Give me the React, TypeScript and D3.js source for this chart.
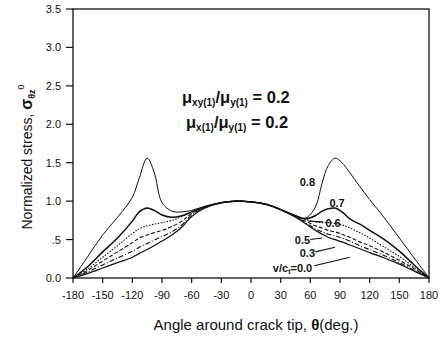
import React from "react";
import * as d3 from "d3";

const angles = [-180, -165, -150, -135, -120, -113, -105, -98, -90, -80, -70, -60, -45, -30, -15, 0, 15, 30, 45, 55, 65, 72, 78, 85, 92, 100, 110, 120, 135, 150, 165, 180];

const v08 = [0, 0.28, 0.56, 0.79, 1.05, 1.3, 1.56, 1.38, 0.98, 0.87, 0.86, 0.88, 0.94, 0.98, 1.0, 0.99, 0.96, 0.89, 0.81, 0.78, 0.92, 1.24, 1.46, 1.56, 1.5, 1.37, 1.19, 1.02, 0.78, 0.52, 0.26, 0];
const v07 = [0, 0.15, 0.34, 0.52, 0.74, 0.86, 0.91, 0.88, 0.82, 0.79, 0.81, 0.86, 0.93, 0.98, 1.0, 0.99, 0.96, 0.89, 0.81, 0.77, 0.81, 0.87, 0.9, 0.91, 0.86, 0.77, 0.7, 0.62, 0.5, 0.35, 0.17, 0];
const v06 = [0, 0.12, 0.27, 0.42, 0.58, 0.64, 0.68, 0.7, 0.72, 0.75, 0.8, 0.86, 0.93, 0.98, 1.0, 0.99, 0.96, 0.89, 0.81, 0.76, 0.73, 0.72, 0.72, 0.71, 0.69, 0.65, 0.59, 0.52, 0.4, 0.28, 0.14, 0];
const v05 = [0, 0.1, 0.22, 0.34, 0.46, 0.52, 0.56, 0.59, 0.62, 0.67, 0.74, 0.84, 0.93, 0.98, 1.0, 0.99, 0.96, 0.89, 0.8, 0.74, 0.68, 0.65, 0.62, 0.6, 0.57, 0.53, 0.47, 0.42, 0.33, 0.23, 0.12, 0];
const v03 = [0, 0.08, 0.17, 0.26, 0.35, 0.4, 0.45, 0.49, 0.54, 0.6, 0.69, 0.82, 0.92, 0.98, 1.0, 0.99, 0.96, 0.89, 0.8, 0.72, 0.64, 0.6, 0.57, 0.55, 0.52, 0.48, 0.42, 0.37, 0.29, 0.2, 0.1, 0];
const v00 = [0, 0.06, 0.13, 0.2, 0.27, 0.32, 0.37, 0.42, 0.48, 0.56, 0.66, 0.8, 0.92, 0.98, 1.0, 0.99, 0.96, 0.89, 0.79, 0.71, 0.62, 0.57, 0.53, 0.5, 0.47, 0.43, 0.38, 0.33, 0.26, 0.18, 0.09, 0];

const seriesNames = ["0.8", "0.7", "0.6", "0.5", "0.3", "0.0"];
const seriesValues = [v08, v07, v06, v05, v03, v00];
const seriesDash = ["", "", "1.5,1.5", "4,2", "5,2,1,2", ""];
const seriesWidth = [1, 1.5, 1.1, 1.1, 1.1, 1.2];

const xTicks = [-180, -150, -120, -90, -60, -30, 0, 30, 60, 90, 120, 150, 180];
const yTicks = [0, 0.5, 1, 1.5, 2, 2.5, 3, 3.5];
const yTickLabels = ["0.0", ".5", "1.0", "1.5", "2.0", "2.5", "3.0", "3.5"];

// curve labels: [text, label theta, label stress, leader from theta, from stress, to theta, to stress]
const curveLabels: [string, number, number, number, number, number, number][] = [
  ["0.8", 57, 1.25, 0, 0, 0, 0],
  ["0.7", 87, 0.97, 0, 0, 0, 0],
  ["0.6", 83, 0.72, 58, 0.74, 73, 0.73],
  ["0.5", 52, 0.49, 60, 0.5, 72, 0.52],
  ["0.3", 57, 0.33, 65, 0.34, 85, 0.4],
  ["v/c", 42, 0.13, 64, 0.16, 100, 0.27],
];

const W = 446;
const H = 341;
const M = { left: 73, right: 17, top: 9, bottom: 63 };

export default function App() {
  const x = d3.scaleLinear().domain([-180, 180]).range([M.left, W - M.right]);
  const y = d3.scaleLinear().domain([0, 3.5]).range([H - M.bottom, M.top]);
  const line = d3
    .line<number>()
    .x((_, i) => x(angles[i]))
    .y((d) => y(d))
    .curve(d3.curveCatmullRom.alpha(0.5));

  const font = "Arial, 'Liberation Sans', Helvetica, sans-serif";

  return (
    <svg width={W} height={H} style={{ position: "absolute", left: 0, top: 0, background: "#fff" }} fontFamily={font}>
      <rect x={x(-180)} y={y(3.5)} width={x(180) - x(-180)} height={y(0) - y(3.5)} fill="none" stroke="#111" strokeWidth={1.3} />

      {xTicks.map((t) => (
        <g key={"x" + t}>
          <line x1={x(t)} x2={x(t)} y1={y(0)} y2={y(0) + 5} stroke="#111" strokeWidth={1.2} />
          <text x={x(t)} y={y(0) + 21} textAnchor="middle" fontSize={11} fill="#111">
            {t}
          </text>
        </g>
      ))}
      {yTicks.map((t, i) => (
        <g key={"y" + t}>
          <line x1={x(-180) - 7} x2={x(-180)} y1={y(t)} y2={y(t)} stroke="#111" strokeWidth={1.2} />
          <text x={x(-180) - 12} y={y(t) + 4} textAnchor="end" fontSize={11} fill="#111">
            {yTickLabels[i]}
          </text>
        </g>
      ))}

      {seriesValues.map((vals, i) => (
        <path
          key={seriesNames[i]}
          d={line(vals) || ""}
          fill="none"
          stroke="#111"
          strokeWidth={seriesWidth[i]}
          strokeDasharray={seriesDash[i]}
        />
      ))}

      {curveLabels.map(([txt, lt, ls, ft, fs, tt, ts]) => (
        <g key={txt}>
          {ft !== 0 && (
            <line x1={x(ft)} y1={y(fs)} x2={x(tt)} y2={y(ts)} stroke="#111" strokeWidth={1.1} />
          )}
          <text x={x(lt)} y={y(ls) + 4} textAnchor="middle" fontSize={11} fontWeight="bold" fill="#111">
            {txt === "v/c" ? (
              <>
                v/c<tspan fontSize={7} dy={2}>t</tspan>
                <tspan dy={-2}>=0.0</tspan>
              </>
            ) : (
              txt
            )}
          </text>
        </g>
      ))}

      <text x={182} y={103} fontSize={16.5} fontWeight="bold" fill="#111">
        μ<tspan fontSize={10} dy={3}>xy(1)</tspan>
        <tspan dy={-3}>/μ</tspan>
        <tspan fontSize={10} dy={3}>y(1)</tspan>
        <tspan dy={-3}> = 0.2</tspan>
      </text>
      <text x={186} y={128} fontSize={16.5} fontWeight="bold" fill="#111">
        μ<tspan fontSize={10} dy={3}>x(1)</tspan>
        <tspan dy={-3}>/μ</tspan>
        <tspan fontSize={10} dy={3}>y(1)</tspan>
        <tspan dy={-3}> = 0.2</tspan>
      </text>

      <text x={256} y={330} textAnchor="middle" fontSize={15} fill="#111">
        Angle around crack tip, <tspan fontWeight="bold">θ</tspan>(deg.)
      </text>
      <text transform={`translate(32, 157) rotate(-90)`} textAnchor="middle" fontSize={14} fill="#111">
        Normalized stress, <tspan fontWeight="bold" fontSize={16}>σ</tspan>
        <tspan fontSize={9} dy={3} fontWeight="bold">θz</tspan>
        <tspan fontSize={9} dy={-11}>0</tspan>
      </text>
    </svg>
  );
}
